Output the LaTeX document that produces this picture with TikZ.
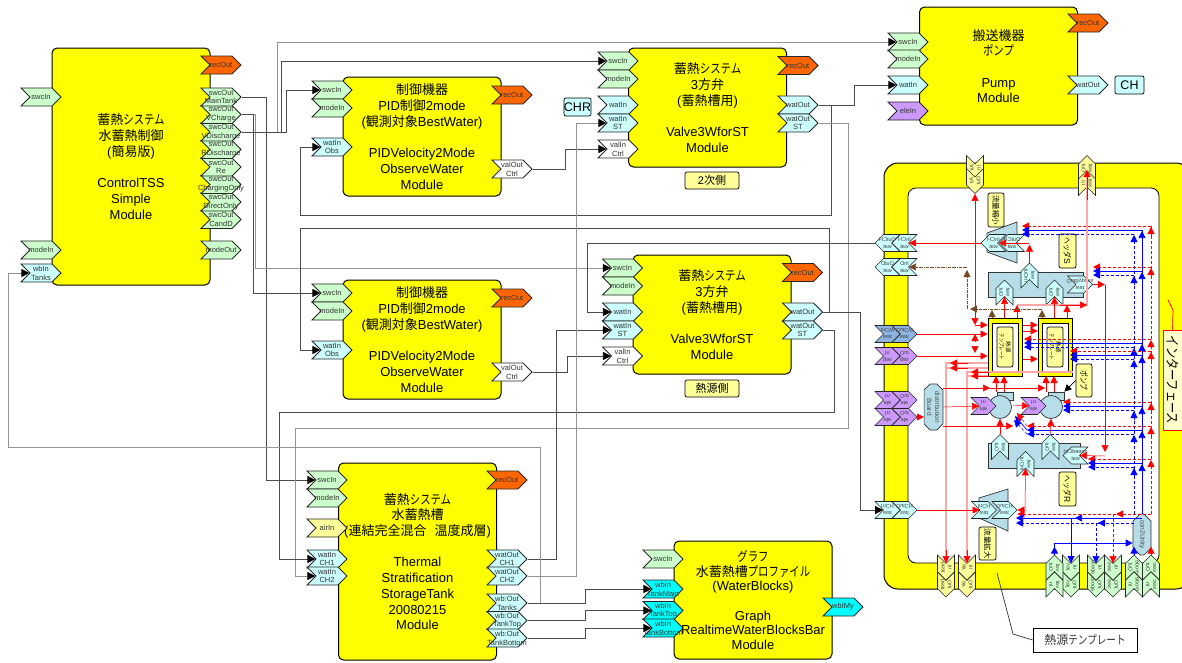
\documentclass[tikz,border=0pt]{standalone}
\usepackage{fontspec}
\setmainfont{Liberation Sans}
\newfontfamily\jpfont{Noto Sans CJK JP}
\newfontfamily\jkfont[FakeStretch=0.8]{Noto Sans CJK JP}
\usetikzlibrary{arrows.meta,shapes.symbols,shapes.misc}

\definecolor{blockyellow}{HTML}{FFFF00}
\definecolor{portgreen}{HTML}{CCFFCC}
\definecolor{portcyan}{HTML}{CCFFFF}
\definecolor{portaqua}{HTML}{00FFFF}
\definecolor{portorange}{HTML}{FF6600}
\definecolor{portyellow}{HTML}{FFFF99}
\definecolor{portpurple}{HTML}{CC99FF}
\definecolor{portblue}{HTML}{8DB4E2}
\definecolor{partblue}{HTML}{B7DDE8}

\newcommand{\jp}[1]{{\jpfont #1}}
\newcommand{\jk}[1]{{\jkfont #1}}
% port of a module: colour, name, x, y, text
\newcommand{\port}[5]{%
  \node[portbox,fill=#1] (#2) at (#3,#4) {};
  \node[porttext] at (#3,#4) {#5};}
% port inside the template: colour, name, x, y, direction, text
\newcommand{\tport}[6]{%
  \begin{scope}[shift={(#3,#4)},#5]
    \node[tplbox,fill=#1,transform shape] (#2) at (0,0) {};
    \node[tpltext,transform shape] at (0,0) {#6};
  \end{scope}}

\begin{document}
\begin{tikzpicture}[
    x=1pt, y=-1pt,
    >={Triangle[length=7pt,width=7pt]},
    block/.style={draw, line width=1pt, rounded corners=5pt, fill=blockyellow, align=center, minimum width=158pt, font=\fontsize{13}{15.7}\selectfont},
    portbox/.style={draw=black!85, line width=.8pt, shape=signal, signal from=west, signal to=east, signal pointer angle=90, inner sep=0pt, minimum width=40pt, minimum height=18pt},
    porttext/.style={align=center, inner sep=0pt, text=black!80, font=\fontsize{7.5}{8.8}\selectfont},
    tplbox/.style={draw=black!85, line width=.6pt, shape=signal, signal from=west, signal to=east, signal pointer angle=90, inner sep=0pt, minimum width=25pt, minimum height=17pt},
    tpltext/.style={align=center, inner sep=0pt, text=black!75, font=\fontsize{5.5}{7}\selectfont},
    toleft/.style={xscale=-1}, toright/.style={yscale=-1},
    toup/.style={rotate=90,yscale=-1}, todown/.style={rotate=-90,yscale=-1},
    tagbox/.style={draw, line width=.7pt, rounded corners=2pt, fill=portyellow, inner sep=0pt, align=center},
    part/.style={draw=black!80, line width=.7pt, fill=partblue},
    wire/.style={draw=black!70, line width=.7pt, >={Triangle[length=8pt,width=8pt,black]}},
    wirelt/.style={draw=black!42, line width=1pt, >={Triangle[length=8pt,width=8pt,black]}},
    sigred/.style={draw=red, line width=.5pt},
    sigblue/.style={draw=blue, line width=.7pt},
    reddash/.style={draw=red, line width=.5pt, densely dashed},
    bluedash/.style={draw=blue, line width=.5pt, densely dashed},
    sigbrown/.style={draw=brown!60!black, line width=.5pt, densely dash dot},
    palered/.style={draw=red!35, line width=1.3pt},
]
    \path[use as bounding box] (0,0) rectangle (1182,662);

    % modules
    \node[block, minimum height=237pt] (ctrl) at (131,166.5) {\jp{蓄熱}\jk{システム}\\\jp{水蓄熱制御}\\(\jp{簡易版})\\[15.7pt]ControlTSS\\Simple\\Module};
    \node[block, minimum height=118pt] (pump) at (998.5,66) {\jp{搬送機器}\\\jk{ポンプ}\\[15.7pt]Pump\\Module};
    \node[block, minimum height=197pt] (tank) at (417.5,561.5) {\jp{蓄熱}\jk{システム}\\\jp{水蓄熱槽}\\(\jp{連結完全混合\hspace{8pt}温度成層})\\[15.7pt]Thermal\\Stratification\\StorageTank\\20080215\\Module};
    \node[block, minimum height=118pt, font=\fontsize{13}{14.6}\selectfont] (graph) at (753,600) {\jk{グラフ}\\\jp{水蓄熱槽}\jk{プロファイル}\\(WaterBlocks)\\[14.6pt]Graph\\RealtimeWaterBlocksBar\\Module};

    \foreach \nm/\yy in {A/77,B/280} {
        \node[block, minimum height=119pt] (pid\nm) at (422,\yy+59.5) {\jp{制御機器}\\PID\jp{制御}2mode\\(\jp{観測対象}BestWater)\\[15.7pt]PIDVelocity2Mode\\ObserveWater\\Module};
        \port{portgreen}{pid\nm Swc}{332}{\yy+13}{swcIn}
        \port{portgreen}{pid\nm Mode}{332}{\yy+31}{modeIn}
        \port{portcyan}{pid\nm Obs}{332}{\yy+70}{watIn\\Obs}
        \port{portorange}{pid\nm Rec}{512}{\yy+18}{recOut}
        \port{white}{pid\nm Val}{512}{\yy+92}{valOut\\Ctrl}
    }
    \foreach \nm/\xx/\yy in {A/628/48,B/632.5/255} {
        \node[block, minimum height=119pt] (valve\nm) at (\xx+79.5,\yy+59.5) {\jp{蓄熱}\jk{システム}\\3\jp{方弁}\\(\jp{蓄熱槽用})\\[15.7pt]Valve3WforST\\Module};
        \port{portgreen}{valve\nm Swc}{\xx-10}{\yy+13}{swcIn}
        \port{portgreen}{valve\nm Mode}{\xx-10}{\yy+31}{modeIn}
        \port{portcyan}{valve\nm Wat}{\xx-10}{\yy+57}{watIn}
        \port{portcyan}{valve\nm St}{\xx-10}{\yy+75}{watIn\\ST}
        \port{white}{valve\nm Val}{\xx-10}{\yy+101}{valIn\\Ctrl}
        \port{portorange}{valve\nm Rec}{\xx+170}{\yy+17.5}{recOut}
        \port{portcyan}{valve\nm Out}{\xx+170}{\yy+57}{watOut}
        \port{portcyan}{valve\nm Ost}{\xx+170}{\yy+75}{watOut\\ST}
    }

    % ports of the control module
    \port{portgreen}{ctrlSwc}{41}{97}{swcIn}
    \port{portgreen}{ctrlMode}{41}{250}{modeIn}
    \port{portcyan}{ctrlWb}{41}{273}{wbIn\\Tanks}
    \port{portorange}{ctrlRec}{221}{65}{recOut}
    \foreach \nm/\yy/\lab in {CandD/219.5/CandD,Direct/202/DirectOnly,Only/184.5/ChargingOnly,Re/167/Re,RDis/149.5/RDischarge,VDis/132/VDischarge,VCh/114.5/VCharge,Main/97/MainTank} {
        \port{portgreen}{ctrl\nm}{221}{\yy}{swcOut\\\lab}
    }
    \port{portgreen}{ctrlModeOut}{221}{250}{modeOut}

    % ports of the pump module
    \port{portgreen}{pumpSwc}{908}{42}{swcIn}
    \port{portgreen}{pumpMode}{908}{59}{modeIn}
    \port{portcyan}{pumpWat}{908}{85}{watIn}
    \port{portpurple}{pumpEle}{908}{111}{eleIn}
    \port{portorange}{pumpRec}{1088}{23}{recOut}
    \port{portcyan}{pumpOut}{1088}{85}{watOut}

    % ports of the tank module
    \port{portgreen}{tankSwc}{327}{480}{swcIn}
    \port{portgreen}{tankMode}{327}{498}{modeIn}
    \port{portyellow}{tankAir}{327}{528}{airIn}
    \port{portcyan}{tankCa}{327}{559}{watIn\\CH1}
    \port{portcyan}{tankCb}{327}{576}{watIn\\CH2}
    \port{portorange}{tankRec}{507}{480}{recOut}
    \port{portcyan}{tankOa}{507}{559}{watOut\\CH1}
    \port{portcyan}{tankOb}{507}{576}{watOut\\CH2}
    \port{portcyan}{tankWa}{507}{603}{wb:Out\\Tanks}
    \port{portcyan}{tankWb}{507}{620.5}{wb:Out\\TankTop}
    \port{portcyan}{tankWc}{507}{638}{wb:Out\\TankBottom}

    % ports of the graph module
    \port{portgreen}{graphSwc}{663}{559}{swcIn}
    \port{portaqua}{graphMain}{663}{589}{wbIn\\TankMain}
    \port{portaqua}{graphTop}{663}{610.5}{wbIn\\TankTop}
    \port{portaqua}{graphBot}{663}{628}{wbIn\\TankBottom}
    \port{portaqua}{graphMy}{843}{607}{wbIMy}

    % notes beside the modules
    \node[draw, line width=.7pt, rounded corners=2pt, fill=portcyan, minimum width=27pt, minimum height=18pt, inner sep=0pt, font=\fontsize{12.5}{14}\selectfont] (chr) at (577.5,107) {CHR};
    \node[draw, line width=.7pt, rounded corners=2pt, fill=portcyan, minimum width=29pt, minimum height=18pt, inner sep=0pt, font=\fontsize{12.5}{14}\selectfont] (ch) at (1129.5,85) {CH};
    \node[tagbox, minimum width=54pt, minimum height=17pt, font=\fontsize{11}{13}\selectfont] (sideA) at (712,180.5) {2\jp{次側}};
    \node[tagbox, minimum width=54pt, minimum height=17pt, font=\fontsize{11}{13}\selectfont] (sideB) at (712,388.5) {\jp{熱源側}};

    % wires between the modules
    \draw[wire,->] (ctrlMain.east) -- ++(25,0) |- (tankSwc.west);
    \draw[wirelt,->] (ctrlVCh.east) -- ++(14,0) |- (valveBSwc.west);
    \draw[wire,->] (ctrlVCh.east) -- ++(12,0) |- (pidBSwc.west);
    \draw[wirelt,->] (ctrlVDis.east) -- ++(36,0) |- (pumpSwc.west);
    \draw[wire,->] (ctrlVDis.east) -- ++(40,0) |- (valveASwc.west);
    \draw[wire,->] (ctrlVDis.east) -- ++(45,0) |- (pidASwc.west);
    \draw[wire,line width=1pt] (ctrlVDis.east) -- ++(45,0);
    \draw[wire,->] (pidAVal.east) -- ++(33,0) |- (valveAVal.west);
    \draw[wire,->] (pidBVal.east) -- ++(35,0) |- (valveBVal.west);
    \draw[wire,->,line width=1pt] (valveAOut.east) -- ++(36,0) |- (pumpWat.west);
    \draw[wire,->] (valveAOut.east) -- ++(13,0) -- ++(0,110) -- ++(-531,0) |- (pidAObs.west);
    \draw[wirelt,->] (valveAOst.east) -- ++(30,0) -- ++(0,305) -- ++(-553,0) |- (tankCb.west);
    \draw[wire,->] (valveBOut.east) -- ++(6,0) -- ++(0,-84) -- ++(-529,0) |- (pidBObs.west);
    \draw[wire,->] (valveBOst.east) -- ++(11,0) -- ++(0,82) -- ++(-555,0) |- (tankCa.west);
    \draw[wire,->,line width=1pt] (tankOa.east) -- ++(29,0) |- (valveBSt.west);
    \draw[wirelt,->] (tankOb.east) -- ++(49,0) |- (valveASt.west);
    \draw[wirelt,->] (tankWa.east) -- ++(13,0) -- ++(0,-156) -- ++(-532,0) |- (ctrlWb.west);
    \draw[wire,->] (tankWa.east) -- ++(58,0) |- (graphMain.west);
    \draw[wire,->] (tankWb.east) -- ++(58,0) |- (graphTop.west);
    \draw[wire,->] (tankWc.east) -- ++(58,0) |- (graphBot.west);

    % heat source template
    \node[draw, line width=1pt, rounded corners=14pt, fill=blockyellow, minimum width=306pt, minimum height=426pt] (tpl) at (1037,376) {};
    \node[draw, line width=.8pt, rounded corners=8pt, fill=white, minimum width=251pt, minimum height=375pt] (tplIn) at (1033.5,375.5) {};
    \node[draw=red, line width=1pt, fill=portyellow!50, rotate=-90, minimum width=100pt, minimum height=19pt, inner sep=0pt, font=\fontsize{14}{16}\selectfont] (iface) at (1172.5,380) {\jk{インターフェース}};
    \coordinate (ifaceTop) at (1168,300);
    \draw[draw=red, line width=.7pt] (ifaceTop) -- ++(5,10) -- (iface.west);

    % parts
    \draw[part] (987,233) -- (1017,222) -- (1017,263) -- (987,252) -- cycle;
    \draw[part] (979,498) -- (1008,489) -- (1008,531) -- (979,518) -- cycle;
    \node[part, minimum width=95pt, minimum height=25pt] (hdrS) at (1035.5,284.5) {};
    \node[part, minimum width=92pt, minimum height=25pt] (hdrR) at (1034,455.5) {};
    \foreach \nm/\xx in {A/1005,B/1055} {
        \node[draw, line width=1pt, fill=blockyellow, minimum width=34pt, minimum height=58pt] (tank\nm) at (\xx,347) {};
        \node[draw, line width=.7pt, fill=white, minimum width=26pt, minimum height=49pt] at (\xx,347.5) {};
        \node[tagbox, rotate=-90, minimum width=40pt, minimum height=16pt, font=\fontsize{5.5}{6.5}\selectfont] (plate\nm) at (\xx,347) {\jp{熱源}\\\jk{テンプレート}};
    }
    \foreach \nm/\xx in {A/1000,B/1051} {
        \node[part, minimum width=16pt, minimum height=8pt] (tail\nm) at (\xx+5,396) {};
        \node[part, circle, minimum size=23pt, inner sep=0pt] (rotor\nm) at (\xx,407) {};
    }
    \node[part, chamfered rectangle, chamfered rectangle xsep=3pt, chamfered rectangle ysep=3pt, rotate=-90, minimum width=46pt, minimum height=17pt, inner sep=0pt, text=black!70, align=center, font=\fontsize{6.5}{8}\selectfont] (board) at (933.5,407) {distribution\\Board};
    \node[part, rotate=-90, chamfered rectangle, chamfered rectangle xsep=5pt, chamfered rectangle ysep=4pt, minimum width=41pt, minimum height=18pt, inner sep=0pt, text=black!70, font=\fontsize{6.5}{8}\selectfont] (con) at (1142,534.5) {con2Unity};
    \node[tagbox, rotate=-90, minimum width=34pt, minimum height=16pt, font=\fontsize{7.5}{8}\selectfont] (tagReduce) at (996,210) {\jp{流量縮小}};
    \node[tagbox, rotate=-90, minimum width=33pt, minimum height=17pt, font=\fontsize{7.5}{8}\selectfont] (tagExpand) at (987.5,543.5) {\jp{流量拡大}};
    \node[tagbox, rotate=-90, minimum width=34pt, minimum height=17pt, font=\fontsize{8.5}{9}\selectfont] (tagHdrS) at (1067.5,251) {\jk{ヘッダ}S};
    \node[tagbox, rotate=-90, minimum width=34pt, minimum height=17pt, font=\fontsize{8.5}{9}\selectfont] (tagHdrR) at (1067.5,489) {\jk{ヘッダ}R};
    \node[tagbox, rotate=-90, minimum width=33pt, minimum height=16pt, font=\fontsize{8.5}{9}\selectfont] (tagPump) at (1084,380.5) {\jk{ポンプ}};
    \node[draw, line width=.7pt, fill=white, minimum width=104pt, minimum height=24pt, inner sep=0pt, text=black!80, font=\fontsize{12}{14}\selectfont] (note) at (1085,640) {\jp{熱源}\jk{テンプレート}};
    \coordinate (noteEnd) at (997,573);
    \draw[draw=black!80, line width=.7pt] (noteEnd) -- (1013,634) -- (note.west);

    % template ports on the frame
    \tport{portyellow}{airIn}{975}{168}{todown}{Air\\In}
    \tport{portyellow}{airOut}{975}{181}{todown}{Air\\Out}
    \tport{portyellow}{topOut}{1087}{168}{toup}{wat\\Out}
    \tport{portyellow}{topIn}{1087}{183}{toup}{wat\\In}
    \foreach \nm/\yy/\col/\laba/\labb in {Ch/243/portcyan/OutCH/InCH,D/267/portcyan/OutD/InD} {
        \tport{\col}{row\nm Out}{887.5}{\yy}{toleft}{\laba\\wat}
        \tport{\col}{row\nm In}{904.5}{\yy}{toleft}{\labb\\wat}
    }
    \foreach \nm/\yy/\col/\laba/\labb in {Cw/334/portblue/wat\\InCW/wat\\OutCW,Gas/356/portpurple/gas\\In/gas\\Out,EleA/400/portpurple/ele\\In/ele\\Out,EleB/417/portpurple/ele\\In/ele\\Out,Low/510/portcyan/wat\\InCH/wat\\OutCH} {
        \tport{\col}{row\nm In}{887.5}{\yy}{toright}{\laba}
        \tport{\col}{row\nm Out}{904.5}{\yy}{toright}{\labb}
    }
    \foreach \nm/\lab/\xx/\col in {Heat/heat/946/portyellow,Air/air/967/portyellow,Val/val/1071/portgreen,Mode/mode/1096/portgreen,Swc/swc/1113/portgreen} {
        \tport{\col}{bot\nm Out}{\xx}{584.5}{todown}{\lab\\Out}
        \tport{\col}{bot\nm In}{\xx}{567.5}{todown}{\lab\\In}
    }
    \foreach \nm/\lab/\xx in {Wat/val/1054.5,Con/mode/1134,Sig/swc/1151} {
        \tport{portgreen}{bot\nm In}{\xx}{584.5}{toup}{\lab\\In}
        \tport{portgreen}{bot\nm Out}{\xx}{567.5}{toup}{\lab\\Out}
    }

    % template ports on the parts
    \tport{portcyan}{rduIn}{993.5}{243}{toleft}{InCH\\wat}
    \tport{portcyan}{rduOut}{1012}{243}{toleft}{OutCH\\wat}
    \tport{portcyan}{rdlIn}{984}{510}{toright}{wat\\InCH}
    \tport{portcyan}{rdlOut}{1004.5}{510}{toright}{wat\\OutCH}
    \tport{portcyan}{hsA}{1004.5}{292.5}{toup}{wat\\Out}
    \tport{portcyan}{hsB}{1029.5}{275.5}{toup}{wat\\InOut}
    \tport{portcyan}{hsC}{1054.5}{292.5}{toup}{wat\\Out}
    \tport{portcyan}{hsBy}{1080}{284.5}{toright}{wat\\OutBypass}
    \tport{portcyan}{hrA}{1000}{447}{toup}{wat\\Out}
    \tport{portcyan}{hrB}{1025.5}{464}{toup}{wat\\InOut}
    \tport{portcyan}{hrC}{1050.5}{447}{toup}{wat\\Out}
    \tport{portcyan}{hrBy}{1075.5}{455.5}{toleft}{speedCtrl\\wat}
    \tport{portpurple}{eleA}{983.5}{406}{toright}{ele\\In}
    \tport{portpurple}{eleB}{1033.5}{406}{toright}{ele\\In}

    % bus lines of the control signals
    \coordinate (busR) at (1151,514);
    \coordinate (busB) at (1142,514);
    \coordinate (busD) at (1134,514);
    \draw[reddash] (busR) -- (busR |- 0,226);
    \draw[sigblue] (busB) -- (busB |- 0,230);
    \draw[bluedash] (busD) -- (busD |- 0,234);
    \foreach \yy/\xx in {226/1022,267/1093,339/1024,351/1070,402/1063,426/1027,459/1088} {
        \draw[reddash,->] (busR |- 0,\yy) -- (\xx,\yy);
        \draw[sigblue,->] (busB |- 0,\yy+4) -- (\xx,\yy+4);
        \draw[bluedash,->] (busD |- 0,\yy+8) -- (\xx,\yy+8);
        \draw[reddash,->] (busR |- 0,\yy+10) -- (busR |- 0,\yy+1);
        \draw[sigblue,->] (busB |- 0,\yy+14) -- (busB |- 0,\yy+5);
        \draw[bluedash,->] (busD |- 0,\yy+18) -- (busD |- 0,\yy+9);
    }
    \draw[reddash,->] (busR) -- (botSwcIn.west |- 0,514) -- (rdlOut.east |- 0,514);
    \draw[sigblue,->] (busB |- 0,518) -- (1016,518);
    \draw[bluedash,->] (busD |- 0,523) -- (1016,523);
    \draw[sigblue,->] (busB |- 0,518) -- (1075,518);
    \draw[bluedash,->] (busD |- 0,523) -- (1098,523);
    \draw[reddash,->] (busR |- 0,514) -- (1116,514);
    \draw[sigblue,->] (botValIn.west |- 0,518) -- (botValIn.west);
    \draw[bluedash,->] (botModeIn.west |- 0,523) -- (botModeIn.west);
    \draw[reddash,->] (botSwcIn.west |- 0,514) -- (botSwcIn.west);
    \draw[sigblue,->] (botWatOut.east) -- ++(0,-8);
    \draw[sigblue,->] (botWatOut.east) |- (con.south |- 0,543);
    \draw[sigblue,->] (botConOut.east) -- ++(0,-8);
    \draw[sigred,->] (botSigOut.east) -- ++(0,-8);

    % water and power lines in the template
    \draw[sigred,<->] (airOut.east) -- (975,325);
    \draw[sigred,->] (975,325) -- (tankA.west |- 0,325);
    \draw[sigred,->] (rowCwOut.east) -- (tankA.west |- rowCwOut);
    \draw[sigred,->] (rowGasOut.east) -- (tankA.west |- rowGasOut);
    \draw[sigred,->] (975,342) -- (975,334);
    \draw[sigred,->] (975,346) -- (975,353);
    \draw[palered] (1017,305) -| (topIn.east);
    \draw[sigred,->] (1060,305) -- (1087,305);
    \draw[sigred,->] (1087,200) -- (topIn.east);
    \draw[sigred,->] (tankA.north -| 1017,0) -- (1017,305);
    \draw[sigred,->] (tankB.north -| 1067,0) -- (1067,305);
    \draw[sigred,->] (tankA.north -| hsA) -- (hsA.west);
    \draw[sigred,->] (tankB.north -| hsC) -- (hsC.west);
    \draw[sigred,->] (hsB.east) -- ++(0,-18);
    \draw[sigred,->] (1029,243) -- (rduOut.east);
    \draw[sigred,->] (rduIn.east) -- (rowChIn.west);
    \draw[sigbrown,->] (tankA.north -| 992,0) -- (992,310);
    \draw[sigbrown,->] (tankB.north -| 1042,0) -- (1042,310);
    \draw[sigbrown,->] (1042,309) -- (970,309);
    \draw[sigbrown,->] (967,309) -- (967,270);
    \draw[sigbrown,->] (967,267) -- (rowDIn.west);
    \draw[sigred,->] (hsBy.east) -- ++(12,0);
    \draw[sigred,->] (1105,285) -- (1105,452);
    \draw[sigred,->] (1105,456) -- (hrBy.west);
    \foreach \yy in {325,331,359} {
        \draw[sigred,->] (tankA.east |- 0,\yy) -- (tankB.west |- 0,\yy);
    }
    \draw[palered] (tankA.west |- 0,363) -| (botHeatIn.west);
    \draw[palered] (tankA.west |- 0,368) -- (946,368);
    \draw[palered] (tankB.east |- 0,372) -| (botAirIn.west);
    \draw[palered] (tankA.west |- 0,376) -- (967,376);
    \foreach \yy/\xx in {363/950,368/950,372/971,376/971} {
        \draw[sigred,->] (\xx+18,\yy) -- (\xx,\yy);
    }
    \draw[sigred,->] (946,550) -- (botHeatIn.west);
    \draw[sigred,->] (967,550) -- (botAirIn.west);
    \foreach \xx in {996,1004,1046,1054} {
        \draw[sigred,->] (\xx,392) -- (\xx,376);
    }
    \draw[sigred,->] (hrA.east) -- (rotorA.south);
    \draw[sigred,->] (hrC.east) -- (rotorB.south);
    \draw[sigred,->] (board.north |- 0,388) -- (990,388);
    \draw[sigred,->] (990,388) -- (1045,388);
    \draw[sigred,->] (board.north) -- (eleA.west);
    \draw[sigred,->] (1013,405) -- (eleB.west);
    \draw[sigred,->] (board.north |- 0,426) -- (1013,426);
    \draw[sigred,->] (rowEleBOut.east) -- (board.south |- rowEleBOut);
    \draw[sigred,->] (rowLowOut.east) -- (rdlIn.west);
    \draw[sigred,->] (1025,510) -- (hrB.west);
    \draw[sigred,->] (1025,510) -- (rdlOut.east);
    \draw[sigblue,->] (1027,430) -- (1015,416);
    \draw[bluedash,->] (1027,434) -- (1014,420);
    \draw[reddash,->] (1027,426) -- (1017,413);
    \draw[draw=black, line width=.7pt, ->] (tagPump.south) -- (tailB.north east);
    \draw[wire,->,line width=.8pt] (valveBOut.east) -- ++(37,0) |- (rowLowIn.west);
    \draw[wire,->] (rowChOut.east) -- ++(-287,0) |- (valveBWat.west);
\end{tikzpicture}
\end{document}
